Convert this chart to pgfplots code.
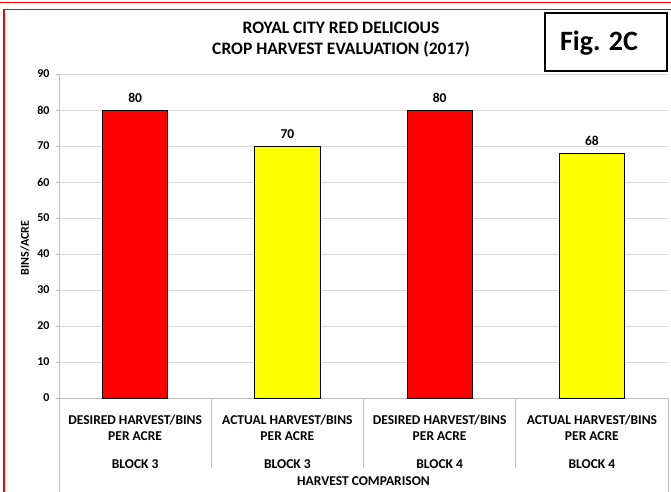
\documentclass[border=0pt]{standalone}
\usepackage{fontspec}
\setmainfont{Carlito}
\usepackage{pgfplots}
\pgfplotsset{compat=1.18}
\definecolor{gridgray}{HTML}{D9D9D9}
\definecolor{axisgray}{HTML}{BFBFBF}
\definecolor{barred}{HTML}{FF0000}
\definecolor{baryellow}{HTML}{FFFF00}
\begin{document}
\begin{tikzpicture}[x=1pt,y=1pt]
\useasboundingbox (0,0) rectangle (671,491);
% red frames
\draw[red, line width=1.5pt] (-5,488.5) -- (680,488.5);
\draw[red, line width=1.5pt] (4,-5) -- (4,481.5) -- (680,481.5);
% title
\node[font=\bfseries\fontsize{17.5}{21}\selectfont, align=center] at (341,451.5) {ROYAL CITY RED DELICIOUS\\CROP HARVEST EVALUATION (2017)};
% fig box
\draw[black, line width=1.3pt, fill=white] (545,420) rectangle (667,478);
\node[font=\bfseries\fontsize{28}{30}\selectfont] at (599,448) {Fig. 2C};
\begin{axis}[
  at={(59pt,93pt)}, anchor=south west,
  scale only axis, width=609pt, height=324pt,
  xmin=-0.5, xmax=3.5, ymin=0, ymax=90,
  ytick={0,10,...,90},
  xtick={0,1,2,3},
  xticklabels={{DESIRED HARVEST/BINS\\PER ACRE\\[12pt]BLOCK 3},{ACTUAL HARVEST/BINS\\PER ACRE\\[12pt]BLOCK 3},{DESIRED HARVEST/BINS\\PER ACRE\\[12pt]BLOCK 4},{ACTUAL HARVEST/BINS\\PER ACRE\\[12pt]BLOCK 4}},
  xticklabel style={align=center, font=\bfseries\fontsize{13.5}{16}\selectfont, yshift=-10pt},
  yticklabel style={font=\bfseries\fontsize{12}{14}\selectfont, xshift=-3pt},
  /pgf/number format/assume math mode=true,
  axis x line*=bottom, axis y line*=left,
  axis line style={axisgray, line width=0.8pt, -},
  ymajorgrids, grid style={gridgray, line width=0.8pt},
  major x tick style={draw=none},
  major y tick style={axisgray, line width=0.8pt},
  tick align=outside, major tick length=3pt,
  ybar, bar width=0.428, bar shift=0pt,
  nodes near coords,
  nodes near coords style={font=\bfseries\fontsize{13.5}{15}\selectfont, anchor=center, yshift=12pt, black},
  clip=false,
]
\addplot[fill=barred, draw=black, line width=0.9pt] coordinates {(0,80) (2,80)};
\addplot[fill=baryellow, draw=black, line width=0.9pt] coordinates {(1,70) (3,68)};
\draw[axisgray, line width=0.8pt] (rel axis cs:0.25,0) -- ([yshift=-70pt]rel axis cs:0.25,0);
\draw[axisgray, line width=0.8pt] (rel axis cs:0.5,0) -- ([yshift=-70pt]rel axis cs:0.5,0);
\draw[axisgray, line width=0.8pt] (rel axis cs:0.75,0) -- ([yshift=-70pt]rel axis cs:0.75,0);
\draw[axisgray, line width=0.8pt] (rel axis cs:0,0) -- ([yshift=-100pt]rel axis cs:0,0);
\draw[axisgray, line width=0.8pt] (rel axis cs:1,0) -- ([yshift=-100pt]rel axis cs:1,0);
\node[font=\bfseries\fontsize{13.5}{15}\selectfont] at ([yshift=-83.5pt]rel axis cs:0.5,0) {HARVEST COMPARISON};
\node[font=\bfseries\fontsize{12}{14}\selectfont, rotate=90] at ([xshift=-34pt]rel axis cs:0,0.463) {BINS/ACRE};
\end{axis}
\end{tikzpicture}
\end{document}
